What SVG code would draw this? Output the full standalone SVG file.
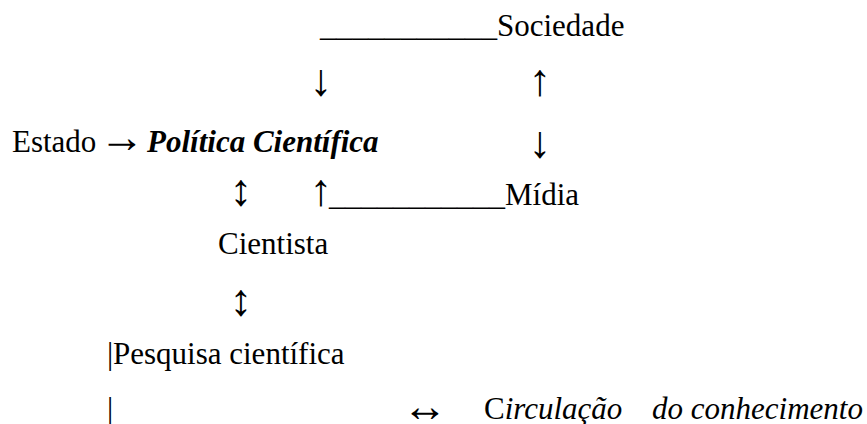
<svg xmlns="http://www.w3.org/2000/svg" width="867" height="424" viewBox="0 0 867 424">
<style>
text { font-family: "Liberation Serif", "Times New Roman", serif; fill: #000; }
.t { font-size: 31px; }
.bi { font-weight: bold; font-style: italic; }
.it { font-style: italic; }
.ar { font-size: 45px; text-anchor: middle; }
</style>
<rect width="867" height="424" fill="#fff"/>
<g id="connectors">
  <text class="t" x="320" y="36" textLength="177" lengthAdjust="spacingAndGlyphs">___________</text>
  <text class="ar" x="321" y="95">↓</text>
  <text class="ar" x="540" y="95">↑</text>
  <text class="ar" x="122" y="152">→</text>
  <text class="ar" x="540" y="157">↓</text>
  <text class="ar" x="241" y="205">↕</text>
  <text class="ar" x="321" y="205">↑</text>
  <text class="t" x="329" y="205" textLength="176" lengthAdjust="spacingAndGlyphs">___________</text>
  <text class="ar" x="241" y="315">↕</text>
  <text class="t" x="107" y="364">|</text>
  <text class="t" x="107" y="419">|</text>
  <text class="ar" x="425" y="421">↔</text>
</g>
<g id="node-sociedade"><text class="t" x="497" y="36">Sociedade</text></g>
<g id="node-estado"><text class="t" x="12" y="152">Estado</text></g>
<g id="node-politica"><text class="t bi" x="147" y="152">Política Científica</text></g>
<g id="node-midia"><text class="t" x="505" y="205">Mídia</text></g>
<g id="node-cientista"><text class="t" x="218" y="254">Cientista</text></g>
<g id="node-pesquisa"><text class="t" x="113" y="364">Pesquisa científica</text></g>
<g id="node-circulacao"><text class="t" x="484" y="419">C<tspan class="it">irculação</tspan><tspan class="it" x="652">do conhecimento</tspan></text></g>
</svg>
